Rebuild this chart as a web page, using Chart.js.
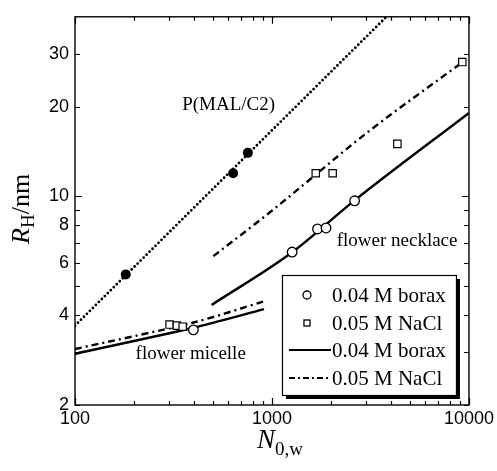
<!DOCTYPE html>
<html>
<head>
<meta charset="utf-8">
<script src="https://cdn.jsdelivr.net/npm/chart.js@4.4.1/dist/chart.umd.min.js"></script>
<style>
  html, body { margin: 0; padding: 0; background: #fff; }
</style>
</head>
<body>
<canvas id="rhChart" width="497" height="471"></canvas>
<script>
// measured points
const malN = [181, 635, 754];
const malR = [5.48, 11.96, 14.0];
const boraxN = [399, 1266, 1702, 1881, 2627];
const boraxR = [3.57, 6.51, 7.78, 7.84, 9.67];
const naclN = [302, 329, 352, 1668, 2032, 4330, 9250];
const naclR = [3.72, 3.69, 3.66, 11.96, 11.96, 15.0, 28.2];

// fitted curves
const malFitN = [100, 3810];
const malFitR = [3.69, 40];
const boraxMicN = [100, 399, 911];
const boraxMicR = [2.97, 3.63, 4.19];
const naclMicN = [100, 399, 911];
const naclMicR = [3.08, 3.78, 4.45];
const boraxNeckN = [494, 1266, 2627, 10000];
const boraxNeckR = [4.33, 6.50, 9.70, 19.05];
const naclNeckN = [504, 966, 3090, 9010];
const naclNeckR = [6.31, 8.80, 16.5, 27.8];

// axes
const xTicks = [100, 200, 300, 400, 500, 600, 700, 800, 900, 1000,
                2000, 3000, 4000, 5000, 6000, 7000, 8000, 9000, 10000];
const xLabels = [100, 1000, 10000];
const yTicks = [2, 3, 4, 5, 6, 7, 8, 9, 10, 20, 30];
const yLabels = [2, 4, 6, 8, 10, 20, 30];

// text labels, anchored at data coords (left edge, middle)
const notes = [
    { text: 'P(MAL/C2)', n: 350, r: 20.3 },
    { text: 'flower necklace', n: 2130, r: 7.08 },
    { text: 'flower micelle', n: 203, r: 2.97 }
];

const legendItems = ['0.04 M borax', '0.05 M NaCl', '0.04 M borax', '0.05 M NaCl'];

const SERIF = '"Liberation Serif", "Times New Roman", serif';
const SANS = '"Liberation Sans", Arial, sans-serif';
const DASHDOT = [7, 4, 2, 4];

const pts = (xs, ys) => xs.map((x, i) => ({ x: x, y: ys[i] }));

const markerBase = { showLine: false, borderColor: '#000' };
const lineBase = { showLine: true, pointRadius: 0, borderColor: '#000', borderWidth: 2.4 };

const framePlugin = {
    id: 'frame',
    afterDraw(chart) {
        const ctx = chart.ctx;
        const a = chart.chartArea;
        const xs = chart.scales.x, ys = chart.scales.y;
        ctx.save();

        // annotations
        ctx.fillStyle = '#000';
        ctx.font = '19px ' + SERIF;
        ctx.textBaseline = 'middle';
        ctx.textAlign = 'left';
        notes.forEach(n => {
            ctx.fillText(n.text, xs.getPixelForValue(n.n), ys.getPixelForValue(n.r));
        });

        // frame and inward ticks
        ctx.strokeStyle = '#000';
        ctx.lineWidth = 1.4;
        ctx.strokeRect(a.left, a.top, a.right - a.left, a.bottom - a.top);
        ctx.lineWidth = 1.2;
        ctx.beginPath();
        xTicks.forEach(v => {
            const px = Math.round(xs.getPixelForValue(v)) + 0.5;
            const len = xLabels.includes(v) ? 7 : 4;
            ctx.moveTo(px, a.bottom); ctx.lineTo(px, a.bottom - len);
            ctx.moveTo(px, a.top); ctx.lineTo(px, a.top + len);
        });
        yTicks.forEach(v => {
            const py = Math.round(ys.getPixelForValue(v)) + 0.5;
            const len = v === 10 ? 7 : 5;
            ctx.moveTo(a.left, py); ctx.lineTo(a.left + len, py);
            ctx.moveTo(a.right, py); ctx.lineTo(a.right - len, py);
        });
        ctx.stroke();

        // legend box with shadow
        const bw = 174, bh = 120;
        const bx = a.right - 13 - bw, by = a.bottom - 10 - bh;
        ctx.fillStyle = '#000';
        ctx.fillRect(bx + 4, by + 4, bw, bh);
        ctx.fillStyle = '#fff';
        ctx.fillRect(bx, by, bw, bh);
        ctx.lineWidth = 1.2;
        ctx.strokeRect(bx + 0.5, by + 0.5, bw, bh);

        const rows = [20, 48, 75, 103];
        const mx = bx + 25;
        ctx.lineWidth = 1.3;
        // open circle
        ctx.beginPath();
        ctx.arc(mx, by + rows[0], 4, 0, Math.PI * 2);
        ctx.stroke();
        // open square
        ctx.strokeRect(mx - 3, by + rows[1] - 3, 6, 6);
        // solid line
        ctx.lineWidth = 2.2;
        ctx.beginPath();
        ctx.moveTo(bx + 7, by + rows[2]); ctx.lineTo(bx + 49, by + rows[2]);
        ctx.stroke();
        // dash-dot line
        ctx.setLineDash([6, 3, 2, 3]);
        ctx.beginPath();
        ctx.moveTo(bx + 7, by + rows[3]); ctx.lineTo(bx + 49, by + rows[3]);
        ctx.stroke();
        ctx.setLineDash([]);

        ctx.fillStyle = '#000';
        ctx.font = '21px ' + SERIF;
        ctx.textBaseline = 'middle';
        legendItems.forEach((t, i) => ctx.fillText(t, bx + 50, by + rows[i] + 1));

        // y axis title: R_H/nm
        ctx.save();
        ctx.translate(29, (a.top + a.bottom) / 2 - 2);
        ctx.rotate(-Math.PI / 2);
        ctx.textBaseline = 'alphabetic';
        const f1 = 'italic 26px ' + SERIF, f2 = '19px ' + SERIF, f3 = '26px ' + SERIF;
        ctx.font = f1; const wR = ctx.measureText('R').width;
        ctx.font = f2; const wH = ctx.measureText('H').width;
        ctx.font = f3; const wNm = ctx.measureText('/nm').width;
        let x0 = -(wR + wH + wNm) / 2;
        ctx.font = f1; ctx.fillText('R', x0, 0); x0 += wR;
        ctx.font = f2; ctx.fillText('H', x0, 5); x0 += wH;
        ctx.font = f3; ctx.fillText('/nm', x0, 0);
        ctx.restore();

        // x axis title: N_0,w
        ctx.textBaseline = 'alphabetic';
        const g1 = 'italic 27px ' + SERIF, g2 = '19px ' + SERIF;
        ctx.font = g1; const wN = ctx.measureText('N').width;
        ctx.font = g2; const wSub = ctx.measureText('0,w').width;
        let x1 = (a.left + a.right) / 2 + 8 - (wN + wSub) / 2;
        const yb = a.bottom + 43;
        ctx.font = g1; ctx.fillText('N', x1, yb); x1 += wN;
        ctx.font = g2; ctx.fillText('0,w', x1, yb + 7);

        ctx.restore();
    }
};

const ctx = document.getElementById('rhChart').getContext('2d');

new Chart(ctx, {
    type: 'scatter',
    data: {
        datasets: [
            { ...markerBase, data: pts(malN, malR), pointStyle: 'circle', pointRadius: 5,
              backgroundColor: '#000', borderWidth: 0 },
            { ...markerBase, data: pts(boraxN, boraxR), pointStyle: 'circle', pointRadius: 4.8,
              backgroundColor: '#fff', borderWidth: 1.3 },
            { ...markerBase, data: pts(naclN, naclR), pointStyle: 'rect', pointRadius: 5.2,
              backgroundColor: '#fff', borderWidth: 1.2 },
            { ...lineBase, data: pts(malFitN, malFitR), borderWidth: 2.8,
              borderDash: [0, 4.2], borderCapStyle: 'round' },
            { ...lineBase, data: pts(boraxMicN, boraxMicR), tension: 0.3 },
            { ...lineBase, data: pts(naclMicN, naclMicR), borderDash: DASHDOT, tension: 0.3 },
            { ...lineBase, data: pts(boraxNeckN, boraxNeckR), cubicInterpolationMode: 'monotone' },
            { ...lineBase, data: pts(naclNeckN, naclNeckR), borderDash: DASHDOT,
              cubicInterpolationMode: 'monotone' }
        ]
    },
    options: {
        responsive: false,
        devicePixelRatio: 1,
        animation: false,
        layout: { padding: { left: 0, top: 13, right: 27, bottom: 0 } },
        scales: {
            x: {
                type: 'logarithmic',
                min: 100,
                max: 10000,
                grid: { display: false, drawTicks: false },
                border: { display: false },
                afterBuildTicks: s => { s.ticks = xTicks.map(v => ({ value: v })); },
                afterFit: s => { s.height = 66; },
                ticks: {
                    autoSkip: false,
                    maxRotation: 0,
                    padding: 3,
                    color: '#000',
                    font: { family: SANS, size: 18 },
                    callback: v => xLabels.includes(v) ? String(v) : ''
                }
            },
            y: {
                type: 'logarithmic',
                min: 2,
                max: 40,
                grid: { display: false, drawTicks: false },
                border: { display: false },
                afterBuildTicks: s => { s.ticks = yTicks.map(v => ({ value: v })); },
                afterFit: s => { s.width = 75; },
                ticks: {
                    autoSkip: false,
                    padding: 6,
                    color: '#000',
                    font: { family: SANS, size: 18 },
                    callback: v => yLabels.includes(v) ? String(v) : ''
                }
            }
        },
        plugins: {
            legend: { display: false },
            tooltip: { enabled: false }
        }
    },
    plugins: [framePlugin]
});
</script>
</body>
</html>
